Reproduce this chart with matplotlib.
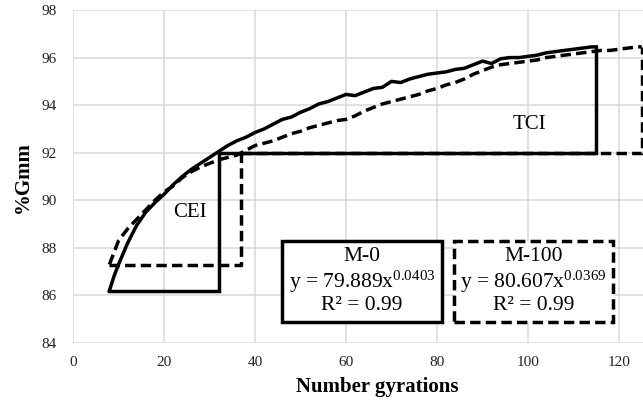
import numpy as np
import matplotlib
matplotlib.use("Agg")
from matplotlib import pyplot as plt

plt.rcParams['font.family'] = ['Liberation Serif', 'DejaVu Serif']
plt.rcParams['mathtext.fontset'] = 'custom'
plt.rcParams['mathtext.rm'] = 'Liberation Serif'
plt.rcParams['mathtext.it'] = 'Liberation Serif:italic'
plt.rcParams['mathtext.default'] = 'rm'

# M-0 (solid) compaction curve
n_m0 = [8, 9, 10, 12, 14, 16, 18, 20, 22, 24, 26, 28, 30, 32, 34, 36, 38, 40,
        42, 44, 46, 48, 50, 52, 54, 56, 58, 60, 62, 64, 66, 68, 70, 72, 74, 76,
        78, 80, 82, 84, 86, 88, 90, 92, 94, 96, 98, 100, 102, 104, 106, 108,
        110, 112, 114, 115]
g_m0 = [86.2, 86.8, 87.3, 88.2, 88.95, 89.5, 89.9, 90.25, 90.65, 91.0, 91.3,
        91.55, 91.8, 92.05, 92.3, 92.5, 92.65, 92.85, 93.0, 93.2, 93.4, 93.5,
        93.7, 93.85, 94.05, 94.15, 94.3, 94.45, 94.4, 94.55, 94.7, 94.75, 95.0,
        94.95, 95.1, 95.2, 95.3, 95.35, 95.4, 95.5, 95.55, 95.7, 95.85, 95.75,
        95.95, 96.0, 96.0, 96.05, 96.1, 96.2, 96.25, 96.3, 96.35, 96.4, 96.45,
        96.45]

# M-100 (dashed) compaction curve
n_m100 = [8, 9, 10, 12, 14, 16, 18, 20, 22, 24, 26, 28, 30, 32, 34, 36, 38, 40,
          42, 44, 46, 48, 50, 52, 54, 56, 58, 60, 62, 64, 66, 68, 70, 72, 74,
          76, 78, 80, 82, 84, 86, 88, 90, 92, 94, 96, 98, 100, 102, 104, 106,
          108, 110, 112, 114, 116, 118, 120, 122, 124, 125]
g_m100 = [87.3, 87.8, 88.3, 88.8, 89.2, 89.6, 90.0, 90.35, 90.6, 90.95, 91.2,
          91.4, 91.55, 91.7, 91.8, 91.9, 92.1, 92.3, 92.4, 92.5, 92.65, 92.8,
          92.9, 93.05, 93.15, 93.25, 93.35, 93.4, 93.55, 93.75, 93.9, 94.05,
          94.15, 94.25, 94.35, 94.45, 94.6, 94.7, 94.85, 94.95, 95.1, 95.3,
          95.45, 95.6, 95.7, 95.75, 95.8, 95.85, 95.9, 96.0, 96.05, 96.1,
          96.15, 96.2, 96.25, 96.3, 96.3, 96.35, 96.4, 96.45, 96.45]

# gyrations at 92 %Gmm
n92_m0 = 32
n92_m100 = 37
g92 = 92

eq_m0 = ["M-0", "y = 79.889x$^{0.0403}$", "R² = 0.99"]
eq_m100 = ["M-100", "y = 80.607x$^{0.0369}$", "R² = 0.99"]

fig = plt.figure(figsize=(6.43, 4.0), dpi=100)
px = 4.55
ax = fig.add_axes([73 / 643, 57 / 400, 126 * px / 643, 333 / 400])

lw = 2.5
dash = (3, 1.5)

# curves
ax.plot(n_m0, g_m0, color='black', lw=lw, solid_joinstyle='round', zorder=4)
ax.plot(n_m100, g_m100, color='black', lw=lw, ls='--', dashes=dash, zorder=4)

# CEI / TCI outlines, M-0
ax.plot([n_m0[0], n92_m0, n92_m0], [g_m0[0], g_m0[0], g92],
        color='black', lw=lw, solid_joinstyle='miter', zorder=3)
ax.plot([n92_m0, n_m0[-1], n_m0[-1]], [g92, g92, g_m0[-1]],
        color='black', lw=lw, solid_joinstyle='miter', zorder=3)

# CEI / TCI outlines, M-100
ax.plot([n_m100[0], n92_m100, n92_m100], [g_m100[0], g_m100[0], g92],
        color='black', lw=lw, ls='--', dashes=dash, zorder=3)
ax.plot([n92_m100, n_m100[-1], n_m100[-1]], [g92, g92, g_m100[-1]],
        color='black', lw=lw, ls='--', dashes=dash, zorder=2)

ax.text(25.6, 89.5, "CEI", fontsize=15, ha='center', va='center')
ax.text(100.4, 93.2, "TCI", fontsize=15, ha='center', va='center')

ax.text(63.5, 86.6, "\n".join(eq_m0), fontsize=15.5, ha='center', va='center',
        linespacing=1.12, zorder=6,
        bbox=dict(boxstyle='square,pad=0.3', fc='white', ec='black', lw=lw))
ax.text(101.2, 86.6, "\n".join(eq_m100), fontsize=15.5, ha='center', va='center',
        linespacing=1.12, zorder=6,
        bbox=dict(boxstyle='square,pad=0.3', fc='white', ec='black', lw=lw,
                  ls=(0, dash)))

ax.set_xlim(0, 126)
ax.set_ylim(84, 98)
ax.set_xticks(np.arange(0, 121, 20))
ax.set_yticks(np.arange(84, 99, 2))
ax.grid(True, color='#d9d9d9', lw=1.1, zorder=0)
ax.set_axisbelow(True)
for s in ax.spines.values():
    s.set_visible(False)
ax.tick_params(length=0, labelsize=11, colors='#222222')
ax.tick_params(axis='x', pad=9)
ax.tick_params(axis='y', pad=12)

fig.text(377 / 643, 1 - 387 / 400, "Number gyrations", fontsize=15,
         fontweight='bold', ha='center', va='center')
fig.text(23 / 643, 1 - 177 / 400, "%Gmm", fontsize=15, fontweight='bold',
         ha='center', va='center', rotation=90)

fig.savefig("out.png", dpi=100)
